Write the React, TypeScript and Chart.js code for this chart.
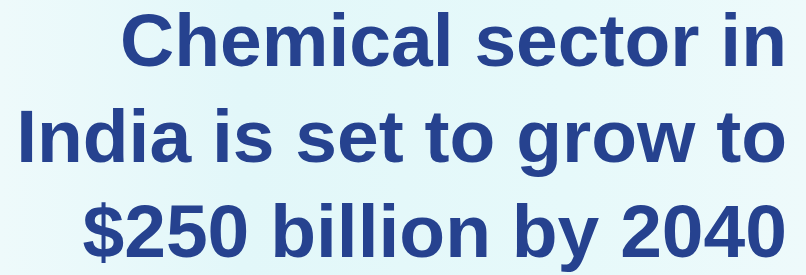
import React, { useEffect, useRef } from "react";
import { Chart, registerables } from "chart.js";

Chart.register(...registerables);

const titleLines: string[] = [
  "Chemical sector in",
  "India is set to grow to",
  "$250 billion by 2040",
];
const categories: string[] = [];
const values: number[] = [];

export default function App() {
  const ref = useRef<HTMLCanvasElement | null>(null);
  useEffect(() => {
    if (!ref.current) return;
    const chart = new Chart(ref.current, {
      type: "bar",
      data: {
        labels: categories,
        datasets: [{ data: values, backgroundColor: "#26428f" }],
      },
      options: {
        animation: false,
        responsive: false,
        layout: { padding: { top: 0, right: 19, left: 0, bottom: 0 } },
        scales: { x: { display: false }, y: { display: false } },
        plugins: {
          legend: { display: false },
          tooltip: { enabled: false },
          title: {
            display: true,
            text: titleLines,
            align: "end",
            color: "#26428f",
            padding: { top: -2, bottom: 0 },
            font: {
              family: "'Liberation Sans', Arial, sans-serif",
              weight: "bold",
              size: 75,
              lineHeight: "95.5px",
            },
          },
        },
      },
    });
    return () => chart.destroy();
  }, []);
  return (
    <div
      style={{
        position: "fixed",
        left: 0,
        top: 0,
        width: 806,
        height: 275,
        background:
          "linear-gradient(90deg, #eefafb 0%, #e2f7f9 30%, #e6f9fa 70%, #eefafb 100%)",
      }}
    >
      <canvas ref={ref} width={806} height={275} style={{ display: "block" }} />
    </div>
  );
}
